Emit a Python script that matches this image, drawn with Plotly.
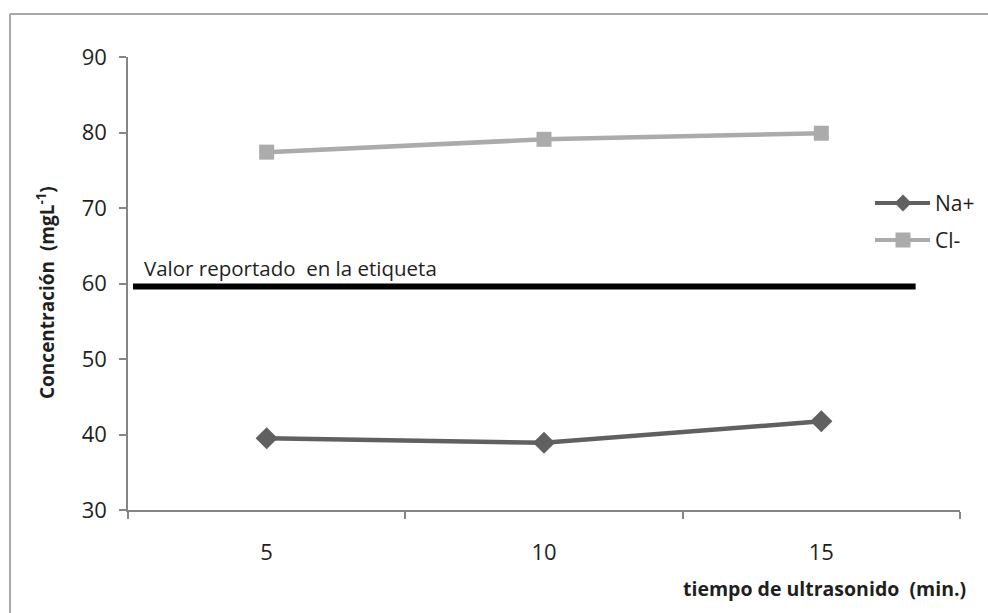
import plotly.graph_objects as go

# Ultrasonication time (min) and measured ion concentrations (mg/L)
tiempos = ["5", "10", "15"]
na_plus = [39.5, 38.9, 41.75]
cl_minus = [77.4, 79.1, 79.9]
valor_etiqueta = 59.6  # value reported on the bottle label
y_ticks = [30, 40, 50, 60, 70, 80, 90]

FONT = "Open Sans"
TXT = "#1f1f1f"
AXIS = "#868686"
NA_COLOR = "#606060"
CL_COLOR = "#ababab"

# canvas geometry (pixels)
W, H = 988, 613
L, R, T, B = 128, 28, 57, 103
pw, ph = W - L - R, H - T - B


def px_x(x):
    return (x - L) / pw


def px_y(y):
    return (H - B - y) / ph


fig = go.Figure()

fig.add_trace(go.Scatter(
    x=tiempos, y=na_plus, name="Na+", mode="lines+markers",
    line=dict(color=NA_COLOR, width=4.5),
    marker=dict(symbol="diamond", size=17, color=NA_COLOR),
    showlegend=False,
))
fig.add_trace(go.Scatter(
    x=tiempos, y=cl_minus, name="Cl-", mode="lines+markers",
    line=dict(color=CL_COLOR, width=4.5),
    marker=dict(symbol="square", size=15, color=CL_COLOR),
    showlegend=False,
))

# reference line from the label
fig.add_shape(type="line", xref="x", yref="y",
              x0=-0.482, x1=2.34, y0=valor_etiqueta, y1=valor_etiqueta,
              line=dict(color="black", width=6))
fig.add_annotation(xref="x", yref="y", x=-0.45, y=valor_etiqueta,
                   text="Valor reportado  en la etiqueta", showarrow=False,
                   xanchor="left", yanchor="bottom", yshift=3,
                   font=dict(family=FONT, size=20.5, color=TXT))


# legend drawn by hand: long line sample, marker, label
def legend_entry(cy, color, label, shape):
    x0, x1, cx = 875, 930, 903
    fig.add_shape(type="line", xref="paper", yref="paper",
                  x0=px_x(x0), x1=px_x(x1), y0=px_y(cy), y1=px_y(cy),
                  line=dict(color=color, width=4))
    if shape == "diamond":
        pts = [(cx, cy - 8.5), (cx + 8.5, cy), (cx, cy + 8.5), (cx - 8.5, cy)]
    else:
        pts = [(cx - 7.5, cy - 7.5), (cx + 7.5, cy - 7.5),
               (cx + 7.5, cy + 7.5), (cx - 7.5, cy + 7.5)]
    path = "M " + " L ".join(f"{px_x(a):.5f},{px_y(b):.5f}" for a, b in pts) + " Z"
    fig.add_shape(type="path", xref="paper", yref="paper", path=path,
                  fillcolor=color, line=dict(color=color, width=0))
    fig.add_annotation(xref="paper", yref="paper", x=px_x(933), y=px_y(cy),
                       text=label, showarrow=False, xanchor="left",
                       yanchor="middle",
                       font=dict(family=FONT, size=21, color=TXT))


legend_entry(203, NA_COLOR, "Na+", "diamond")
legend_entry(240, CL_COLOR, "Cl-", "square")

# axis titles
fig.add_annotation(xref="paper", yref="paper", x=px_x(968), y=px_y(588),
                   text="<b>tiempo de ultrasonido  (min.)</b>", showarrow=False,
                   xanchor="right", yanchor="middle",
                   font=dict(family=FONT, size=19.5, color=TXT))
fig.add_annotation(xref="paper", yref="paper", x=px_x(46), y=px_y(293),
                   text="<b>Concentración  (mgL<sup>-1</sup>)</b>", showarrow=False,
                   textangle=-90, xanchor="center", yanchor="middle",
                   font=dict(family=FONT, size=19, color=TXT))

# chart frame (left and top edges)
frame = dict(color="#a8a8a8", width=2)
fig.add_shape(type="line", xref="paper", yref="paper",
              x0=px_x(10), x1=px_x(10), y0=px_y(14), y1=px_y(620), line=frame)
fig.add_shape(type="line", xref="paper", yref="paper",
              x0=px_x(10), x1=px_x(995), y0=px_y(14), y1=px_y(14), line=frame)

fig.update_layout(
    width=W, height=H,
    margin=dict(l=L, r=R, t=T, b=B),
    paper_bgcolor="white", plot_bgcolor="white",
    showlegend=False,
    xaxis=dict(type="category", range=[-0.5, 2.5],
               showline=True, linecolor=AXIS, linewidth=1.5,
               ticks="outside", tickson="boundaries", ticklen=7,
               tickcolor=AXIS, tickwidth=1.5, showgrid=False, zeroline=False,
               tickfont=dict(family=FONT, size=22, color=TXT),
               ticklabelstandoff=22),
    yaxis=dict(range=[30, 90], tickvals=y_ticks,
               showline=True, linecolor=AXIS, linewidth=1.5,
               ticks="outside", ticklen=7, tickcolor=AXIS, tickwidth=1.5,
               showgrid=False, zeroline=False,
               tickfont=dict(family=FONT, size=22, color=TXT),
               ticklabelstandoff=8),
    font=dict(family=FONT),
)

fig.write_html("out.html")
